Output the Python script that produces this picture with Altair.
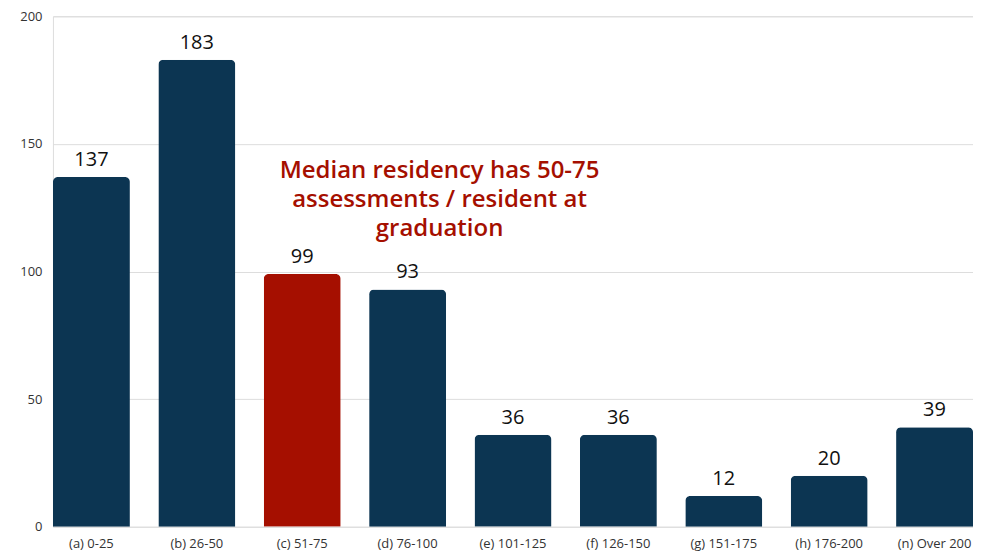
import altair as alt
import pandas as pd

categories = ["(a) 0-25", "(b) 26-50", "(c) 51-75", "(d) 76-100", "(e) 101-125",
              "(f) 126-150", "(g) 151-175", "(h) 176-200", "(n) Over 200"]
values = [137, 183, 99, 93, 36, 36, 12, 20, 39]
highlight = [False, False, True, False, False, False, False, False, False]
y_ticks = [0, 50, 100, 150, 200]
annotation = ["Median residency has 50-75", "assessments / resident at", "graduation"]

df = pd.DataFrame({"cat": categories, "val": values, "hl": highlight})

NAVY = "#0c3552"
RED = "#a50f00"
FONT = "Open Sans"

x = alt.X("cat:N", sort=categories, title=None,
          scale=alt.Scale(paddingInner=0.27, paddingOuter=0),
          axis=alt.Axis(labelAngle=0, labelFontSize=13, labelColor="#333333",
                        labelFont=FONT, ticks=False, domain=False, labelPadding=11))
y = alt.Y("val:Q", title=None,
          scale=alt.Scale(domain=[0, 200]),
          axis=alt.Axis(values=y_ticks, labelFontSize=13, labelColor="#333333",
                        labelFont=FONT, ticks=False, domain=False, labelPadding=11,
                        gridColor="#dddddd", gridWidth=1))

bars = alt.Chart(df).mark_bar(cornerRadiusTopLeft=5, cornerRadiusTopRight=5).encode(
    x=x, y=y,
    color=alt.Color("hl:N", scale=alt.Scale(domain=[False, True], range=[NAVY, RED]), legend=None),
)

labels = alt.Chart(df).mark_text(baseline="bottom", dy=-7, fontSize=20, font=FONT,
                                 color="#111111").encode(
    x=alt.X("cat:N", sort=categories), y="val:Q", text="val:Q")

ann_layers = []
for i, line in enumerate(annotation):
    ann_layers.append(
        alt.Chart(pd.DataFrame({"t": [line]})).mark_text(
            fontSize=24, font=FONT, fontWeight=600, color=RED,
            align="center", baseline="middle", dy=29 * i).encode(
            x=alt.value(387), y=alt.value(155), text="t")
    )

chart = alt.layer(bars, labels, *ann_layers).properties(
    width=921, height=511,
    autosize=alt.AutoSizeParams(type="none"),
    padding={"left": 45, "top": 8, "right": 0, "bottom": 30},
).configure_view(stroke=None).configure(background="white")

chart.save("out.html", embed_options={"renderer": "svg", "actions": False})
